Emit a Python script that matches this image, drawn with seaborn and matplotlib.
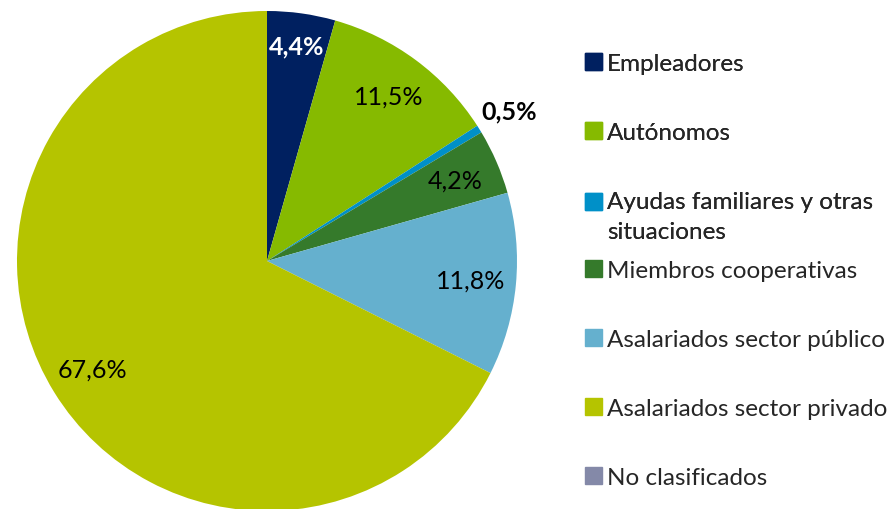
import matplotlib
matplotlib.use("Agg")
import matplotlib.pyplot as plt
import matplotlib.patches as mpatches
import numpy as np
import seaborn as sns

categories = [
    "Empleadores",
    "Autónomos",
    "Ayudas familiares y otras\nsituaciones",
    "Miembros cooperativas",
    "Asalariados sector público",
    "Asalariados sector privado",
    "No clasificados",
]
shares = [4.4, 11.5, 0.5, 4.2, 11.8, 67.6, 0.0]
colors = sns.color_palette(
    ["#002060", "#86BA00", "#0090C8", "#357A2B", "#65B0CE", "#B5C400", "#8489A8"]
)

sns.set_theme(style="white")
plt.rcParams["font.family"] = ["Lato", "DejaVu Sans"]

fig = plt.figure(figsize=(8.94, 5.10), dpi=100)
W, H = 894, 510
cx, cy, r = 267, 262, 250
ax = fig.add_axes([(cx - r) / W, (H - cy - r) / H, 2 * r / W, 2 * r / H])
ax.set_aspect("equal")


def pct_label(p):
    return f"{p:.1f}%".replace(".", ",") if p >= 0.05 else ""


wedges, texts, autotexts = ax.pie(
    shares,
    colors=colors,
    startangle=90,
    counterclock=False,
    autopct=pct_label,
    pctdistance=0.82,
    radius=1.0,
    wedgeprops=dict(linewidth=0),
    textprops=dict(fontsize=18, color="black"),
)
ax.set_xlim(-1, 1)
ax.set_ylim(-1, 1)
ax.axis("off")

# Emphasised labels: the thin slice gets its label outside the pie
theta_start = 90 - np.cumsum([0] + shares[:-1]) * 3.6
for i, t in enumerate(autotexts):
    mid = np.deg2rad(theta_start[i] - shares[i] * 1.8)
    if i == 0:
        d = 0.87
        t.set_color("white")
        t.set_fontweight("bold")
        t.set_position((d * np.cos(mid), d * np.sin(mid)))
    elif i == 2:
        d = 1.14
        t.set_fontweight("bold")
        t.set_position((d * np.cos(mid), d * np.sin(mid)))

handles = [mpatches.Patch(color=c, label=l) for c, l in zip(colors, categories)]
legend_kw = dict(
    loc="upper left",
    frameon=False,
    fontsize=17.5,
    handlelength=0.7,
    handleheight=0.7,
    handletextpad=0.2,
    labelspacing=1.97,
    borderaxespad=0,
    borderpad=0,
)
# Two stacked legend blocks keep an even rhythm around the two-line entry
leg_top = fig.legend(handles=handles[:3], bbox_to_anchor=(585 / W, 1 - 54 / H), **legend_kw)
for t in leg_top.get_texts():
    t.set_linespacing(1.55)
# Align the two-line entry's swatch with its first line
two_line_patch = leg_top.legend_handles[2]
two_line_patch.set_y(two_line_patch.get_y() + 10.5)
fig.add_artist(leg_top)
leg_bottom = fig.legend(handles=handles[3:], bbox_to_anchor=(585 / W, 1 - 261 / H), **legend_kw)

fig.savefig("out.png", dpi=100)
